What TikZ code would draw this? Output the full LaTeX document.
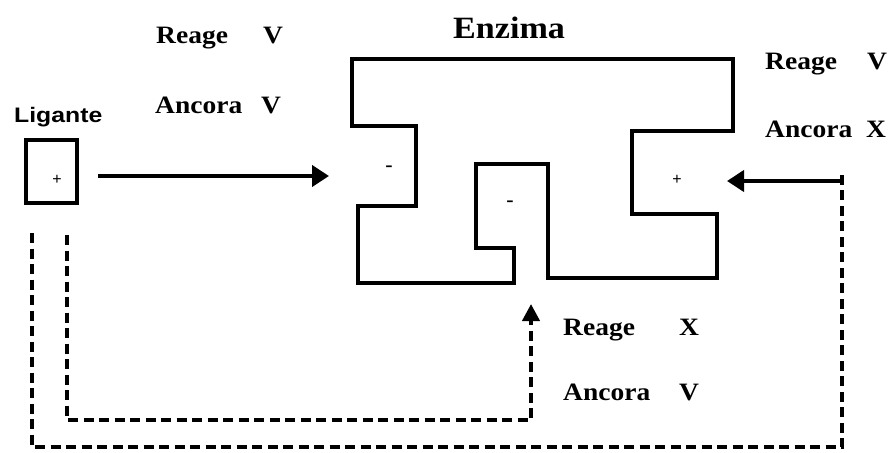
\documentclass[tikz,border=0pt]{standalone}
\usepackage{fontspec}
\usetikzlibrary{arrows.meta}
\newfontfamily\serifwide[FakeStretch=1.1]{Liberation Serif}
\newfontfamily\sanswide[FakeStretch=1.18]{Liberation Sans}
\newfontfamily\signfont{Liberation Sans}
\begin{document}
\begin{tikzpicture}[x=1pt, y=-1pt,
  lbl/.style={inner sep=0pt, anchor=base west,
    font=\serifwide\bfseries\fontsize{25}{25}\selectfont},
  title/.style={inner sep=0pt, anchor=base west,
    font=\serifwide\bfseries\fontsize{31}{31}\selectfont},
  ligtitle/.style={inner sep=0pt, anchor=base west,
    font=\sanswide\bfseries\fontsize{21}{21}\selectfont},
  charge/.style={inner sep=0pt, font=\signfont\fontsize{16}{16}\selectfont},
  negcharge/.style={inner sep=0pt, font=\serifwide\bfseries\fontsize{20}{20}\selectfont},
  wall/.style={line width=4pt, line join=miter},
  ligbox/.style={draw, line width=3.8pt, minimum width=51pt, minimum height=63pt, inner sep=0pt},
  solidarrow/.style={line width=4pt, -{Triangle[length=17pt,width=21pt]}},
  dashline/.style={line width=4pt, dash pattern=on 10pt off 5.5pt},
  dasharrow/.style={dashline, -{Triangle[length=17pt,width=17pt]}}
]
\useasboundingbox (0,0) rectangle (890,452);

% ligand box and its charge
\node[ligbox] (lig) at (51.5,171.5) {};
\node[charge] (ligplus) at (57,180) {+};
\node[ligtitle] (ligname) at (14,122) {Ligante};

% enzyme outline with its three pockets
\draw[wall] (352,59) -- (733,59) -- (733,131) -- (632,131) -- (632,214)
  -- (717,214) -- (717,278) -- (548,278) -- (548,164) -- (476,164)
  -- (476,248) -- (514,248) -- (514,283) -- (358,283) -- (358,206)
  -- (416,206) -- (416,126) -- (352,126) -- cycle;
\node[title] (enzname) at (453,38) {Enzima};

% pocket charges
\node[negcharge] (minusL) at (389,169) {-};
\node[negcharge] (minusM) at (510,204) {-};
\node[charge] (plusR) at (677,180) {+};

% labels
\node[lbl] (reage1) at (156,44) {Reage};
\node[lbl] (v1) at (263,44) {V};
\node[lbl] (ancora1) at (155,113) {Ancora};
\node[lbl] (v2) at (261,113) {V};

\node[lbl] (reage2) at (765,70) {Reage};
\node[lbl] (v3) at (867,70) {V};
\node[lbl] (ancora2) at (765,137) {Ancora};
\node[lbl] (x1) at (866,137) {X};

\node[lbl] (reage3) at (563,335) {Reage};
\node[lbl] (x2) at (679,335) {X};
\node[lbl] (ancora3) at (563,400) {Ancora};
\node[lbl] (v4) at (679,400) {V};

% binding routes
\coordinate (siteL) at (329,176);
\coordinate (siteM) at (531,304);
\coordinate (siteR) at (727,181);
\coordinate (innerStart) at (67,235);
\coordinate (outerStart) at (32,233);
\coordinate (outerTurn) at (842,181);

\draw[solidarrow, shorten <=19pt] (lig.east |- siteL) -- (siteL);
\draw[dasharrow] (innerStart) -- (67,420) -- (531,420) -- (siteM);
\draw[dashline] (outerStart) -- (32,447) -- (842,447) -- ([yshift=6pt]outerTurn);
\draw[solidarrow] (outerTurn) -- (siteR);
\end{tikzpicture}
\end{document}
